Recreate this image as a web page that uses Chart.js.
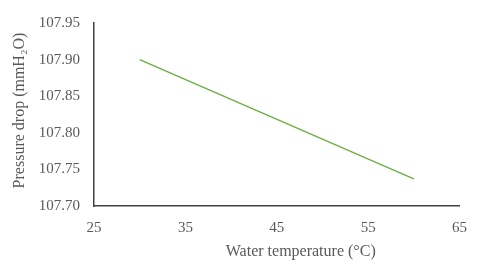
<!DOCTYPE html>
<html>
<head>
<meta charset="utf-8">
<script src="https://cdn.jsdelivr.net/npm/chart.js@4"></script>
<style>
  html, body { margin: 0; padding: 0; background: #fff; }
</style>
</head>
<body>
<canvas id="chart" width="480" height="266"></canvas>
<script>
var temps = [30, 60];
var pressureDrop = [107.90, 107.737];
var xTicks = [25, 35, 45, 55, 65];
var yTicks = [107.70, 107.75, 107.80, 107.85, 107.90, 107.95];

var ctx = document.getElementById('chart').getContext('2d');
var textColor = '#595959';
var serif = "'Liberation Serif', 'Times New Roman', serif";

new Chart(ctx, {
    type: 'scatter',
    data: {
        datasets: [{
            data: temps.map(function (t, i) { return { x: t, y: pressureDrop[i] }; }),
            showLine: true,
            borderColor: '#70AD47',
            borderWidth: 1.5,
            pointRadius: 0,
            fill: false
        }]
    },
    options: {
        responsive: false,
        animation: false,
        layout: { padding: { top: 23, right: 20, left: 0, bottom: 0 } },
        plugins: { legend: { display: false }, tooltip: { enabled: false } },
        scales: {
            x: {
                type: 'linear',
                min: xTicks[0],
                max: xTicks[xTicks.length - 1],
                afterBuildTicks: function (axis) { axis.ticks = xTicks.map(function (v) { return { value: v }; }); },
                afterFit: function (axis) { axis.height = 60; },
                grid: { display: false, drawTicks: false },
                border: { color: '#404040', width: 1.5 },
                ticks: { color: textColor, font: { family: serif, size: 15 }, padding: 13 },
                title: {
                    display: true,
                    // leading spaces push the title right, as in the original
                    text: '\u00a0\u00a0\u00a0\u00a0\u00a0\u00a0\u00a0\u00a0\u00a0\u00a0\u00a0\u00a0Water temperature (\u00b0C)',
                    color: textColor,
                    font: { family: serif, size: 16 },
                    padding: { top: 0, bottom: 5 }
                }
            },
            y: {
                min: yTicks[0],
                max: yTicks[yTicks.length - 1],
                afterBuildTicks: function (axis) { axis.ticks = yTicks.map(function (v) { return { value: v }; }); },
                afterFit: function (axis) { axis.width = 94; },
                grid: { display: false, drawTicks: false },
                border: { color: '#404040', width: 1.5 },
                ticks: {
                    color: textColor,
                    font: { family: serif, size: 15 },
                    padding: 14,
                    callback: function (v) { return Number(v).toFixed(2); }
                },
                title: {
                    display: true,
                    text: '\u00a0\u00a0Pressure drop (mmH\u2082O)',
                    color: textColor,
                    font: { family: serif, size: 16 },
                    padding: { top: 10, bottom: 0 }
                }
            }
        }
    }
});
</script>
</body>
</html>
